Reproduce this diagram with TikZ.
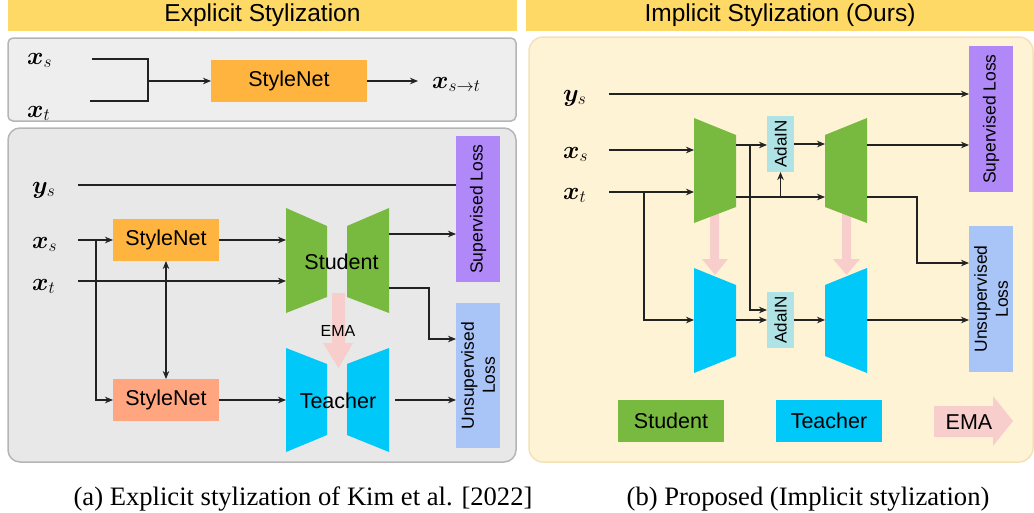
\documentclass[tikz,border=0pt]{standalone}
\usepackage{amsmath,bm}
\usepackage{fontspec}
\setmainfont{Liberation Sans}
\newfontfamily\capfont{Liberation Serif}
\usetikzlibrary{arrows.meta}
\definecolor{hdr}{HTML}{FFD966}
\definecolor{grayA}{HTML}{EEEEEE}
\definecolor{grayB}{HTML}{E8E8E8}
\definecolor{grayline}{HTML}{B5B5B5}
\definecolor{cream}{HTML}{FFF3D6}
\definecolor{creamline}{HTML}{F3E2B8}
\definecolor{orS}{HTML}{FFB43F}
\definecolor{salm}{HTML}{FFA680}
\definecolor{purp}{HTML}{B088F7}
\definecolor{lblue}{HTML}{A9C4F7}
\definecolor{stg}{HTML}{78B940}
\definecolor{tcy}{HTML}{00C8F8}
\definecolor{pinkema}{HTML}{F8CECC}
\definecolor{adain}{HTML}{B0E3E6}
\definecolor{lc}{HTML}{222222}
\begin{document}
\begin{tikzpicture}[x=1pt,y=-1pt,
  lab/.style={inner sep=0pt, font=\fontsize{26}{30}\selectfont, anchor=base west},
  rb/.style={inner sep=0pt, outer sep=0pt, draw=none, align=center},
  panel/.style={inner sep=0pt, outer sep=0pt, draw=grayline, line width=1.5pt},
  ln/.style={line width=1.1pt, draw=lc},
  arr/.style={ln, -{Stealth[length=8pt,width=6.5pt,inset=2.5pt]}},
  darr/.style={ln, {Stealth[length=8pt,width=6.5pt,inset=2.5pt]}-{Stealth[length=8pt,width=6.5pt,inset=2.5pt]}},
  big/.style={font=\fontsize{21.5}{26}\selectfont},
  mid/.style={font=\fontsize{17.5}{21}\selectfont},
  hfont/.style={font=\fontsize{24.5}{28}\selectfont},
  capstyle/.style={inner sep=0pt, anchor=base, font=\capfont\fontsize{26.6}{30}\selectfont},
]
\useasboundingbox (0,0) rectangle (1034,512);
% headers
\node[rb, fill=hdr, minimum width=509pt, minimum height=31pt, hfont] (hL) at (262.5,15.5) {Explicit Stylization};
\node[rb, fill=hdr, minimum width=508pt, minimum height=31pt, hfont] (hR) at (780,15.5) {Implicit Stylization (Ours)};
% panels
\node[panel, rounded corners=5pt, fill=grayA, minimum width=508pt, minimum height=83pt] (pTop) at (262,79.5) {};
\node[panel, rounded corners=12pt, fill=grayB, minimum width=508pt, minimum height=334pt] (pBot) at (262,295) {};
\node[panel, rounded corners=14pt, fill=cream, draw=creamline, minimum width=504pt, minimum height=425pt] (pR) at (781,249.5) {};

% ---------- top-left box
\node[lab] (xs0) at (27,64) {$\boldsymbol{x}_s$};
\node[lab] (xt0) at (27,117) {$\boldsymbol{x}_t$};
\coordinate (a0) at (92,59);
\coordinate (b0) at (90,101);
\coordinate (j0) at (148,81);
\node[rb, fill=orS, minimum width=156pt, minimum height=42pt, big] (snT) at (289,81) {StyleNet};
\draw[ln] (a0) -| (j0);
\draw[ln] (b0) -| (j0);
\draw[arr] (j0) -- (snT.west);
\node[lab] (xst) at (432,88) {$\boldsymbol{x}_{s\to t}$};
\draw[arr] (snT.east) -- ([xshift=-14pt]xst.west |- snT.east);

% ---------- bottom-left box
\node[lab] (ys1) at (32,193) {$\boldsymbol{y}_s$};
\node[lab] (xs1) at (32,248) {$\boldsymbol{x}_s$};
\node[lab] (xt1) at (32,290) {$\boldsymbol{x}_t$};
\coordinate (ys1e) at (78,185);
\coordinate (xs1e) at (78,240);
\coordinate (xt1e) at (78,281);
\coordinate (br1) at (96,240);
\node[rb, fill=orS, minimum width=106pt, minimum height=42pt, big] (sn1) at (166,240) {StyleNet};
\node[rb, fill=salm, minimum width=106pt, minimum height=42pt, big] (sn2) at (166,400) {StyleNet};
\node[rb, fill=purp, minimum width=44pt, minimum height=146pt] (supL) at (478,209) {};
\node[rb, rotate=90, mid] (supLt) at (supL) {Supervised Loss};
\node[rb, fill=lblue, minimum width=44pt, minimum height=145pt] (unsL) at (478,375.5) {};
\node[rb, rotate=90, mid] (unsLt) at (unsL) {Unsupervised\\Loss};
% EMA arrow (left)
\fill[pinkema] (332,293) -- (345,293) -- (345,343) -- (353,343) -- (338.5,368) -- (323,343) -- (332,343) -- cycle;
% student / teacher trapezoids
\fill[stg] (286,208) -- (327,226) -- (327,297) -- (286,313) -- cycle;
\fill[stg] (347,226) -- (389,208) -- (389,313) -- (347,297) -- cycle;
\fill[tcy] (286,348) -- (327,364) -- (327,435) -- (286,452) -- cycle;
\fill[tcy] (347,364) -- (389,348) -- (389,452) -- (347,435) -- cycle;
\node[rb, big] (stuT) at (341.5,262) {Student};
\node[rb, big] (teaT) at (338,401) {Teacher};
\node[rb, font=\fontsize{16}{19}\selectfont] (emaL) at (338,331) {EMA};
\coordinate (stuIn) at (286,0);
\coordinate (tu) at (429,0);
\coordinate (uin) at (456,339);
\coordinate (so1) at (389,234);
\coordinate (so2) at (389,288);
\coordinate (to1) at (395,400);
\draw[ln] (ys1e) -- (ys1e -| supL.west);
\draw[arr] (xs1e) -- (sn1.west);
\draw[arr] (br1) |- (sn2.west);
\draw[darr] (sn1.south) -- (sn2.north);
\draw[arr] (sn1.east) -- (sn1.east -| stuIn);
\draw[arr] (xt1e) -- (xt1e -| stuIn);
\draw[arr] (sn2.east) -- (sn2.east -| stuIn);
\draw[arr] (so1) -- (so1 -| supL.west);
\draw[arr] (so2) -- (so2 -| tu) |- (uin);
\draw[arr] (to1) -- (to1 -| unsL.west);

% ---------- right box
\node[lab] (ys2) at (563,101) {$\boldsymbol{y}_s$};
\node[lab] (xs2) at (563,158) {$\boldsymbol{x}_s$};
\node[lab] (xt2) at (563,199) {$\boldsymbol{x}_t$};
\coordinate (ys2e) at (609,94);
\coordinate (xs2e) at (609,150);
\coordinate (xt2e) at (609,192);
\node[rb, fill=purp, minimum width=44pt, minimum height=146pt] (supR) at (991,119) {};
\node[rb, rotate=90, mid] (supRt) at (supR) {Supervised Loss};
\node[rb, fill=lblue, minimum width=44pt, minimum height=146pt] (unsR) at (991,299) {};
\node[rb, rotate=90, mid] (unsRt) at (unsR) {Unsupervised\\Loss};
\node[rb, fill=adain, minimum width=27pt, minimum height=56pt] (ada1) at (780.5,144) {};
\node[rb, rotate=90, font=\fontsize{17}{20}\selectfont] (ada1t) at (ada1) {AdaIN};
\node[rb, fill=adain, minimum width=27pt, minimum height=56pt] (ada2) at (780.5,320) {};
\node[rb, rotate=90, font=\fontsize{17}{20}\selectfont] (ada2t) at (ada2) {AdaIN};
% EMA arrows (right)
\fill[pinkema] (710,212) -- (719,212) -- (719,259) -- (728,259) -- (715,275) -- (702,259) -- (710,259) -- cycle;
\fill[pinkema] (842,212) -- (851,212) -- (851,259) -- (860,259) -- (846.5,275) -- (833,259) -- (842,259) -- cycle;
% trapezoids
\fill[stg] (694,118) -- (736,135) -- (736,207) -- (694,223) -- cycle;
\fill[stg] (825,135) -- (867,118) -- (867,223) -- (825,207) -- cycle;
\fill[tcy] (694,268) -- (736,285) -- (736,356) -- (694,373) -- cycle;
\fill[tcy] (825,285) -- (867,268) -- (867,373) -- (825,356) -- cycle;
\coordinate (encIn) at (694,0);
\coordinate (decIn) at (825,0);
\coordinate (uR) at (917,0);
\coordinate (brx) at (644,192);
\coordinate (tIn) at (694,320);
\coordinate (e1) at (736,145);
\coordinate (e2) at (736,197);
\coordinate (d2) at (825,197);
\coordinate (b2) at (780.5,197);
\coordinate (b1) at (750,145);
\coordinate (a2in) at (767,310);
\coordinate (do1) at (867,145);
\coordinate (do2) at (867,197);
\coordinate (uRin) at (969,263);
\coordinate (te1) at (736,320);
\coordinate (td1) at (867,320);
\draw[arr] (ys2e) -- (ys2e -| supR.west);
\draw[arr] (xs2e) -- (xs2e -| encIn);
\draw[arr] (xt2e) -- (xt2e -| encIn);
\draw[arr] (brx) |- (tIn);
\draw[arr] (e1) -- (e1 -| ada1.west);
\draw[arr] (e2) -- (d2);
\draw[arr] (b2) -- (ada1.south);
\draw[arr] (b1) |- (a2in);
\draw[arr] (ada1.east) -- (ada1.east -| decIn);
\draw[arr] (do1) -- (do1 -| supR.west);
\draw[arr] (do2) -- (do2 -| uR) |- (uRin);
\draw[arr] (te1) -- (te1 -| ada2.west);
\draw[arr] (ada2.east) -- (ada2.east -| decIn);
\draw[arr] (td1) -- (td1 -| unsR.west);
% legend
\node[rb, fill=stg, minimum width=106pt, minimum height=42pt, big] (legS) at (671,421) {Student};
\node[rb, fill=tcy, minimum width=106pt, minimum height=42pt, big] (legT) at (829,421) {Teacher};
\fill[pinkema] (934,406) -- (993,406) -- (993,396) -- (1013,421) -- (993,446) -- (993,437) -- (934,437) -- cycle;
\node[rb, big] (legE) at (969,422) {EMA};

% captions
\node[capstyle] (capA) at (303,505) {(a) Explicit stylization of Kim et al. [2022]};
\node[capstyle] (capB) at (808,505) {(b) Proposed (Implicit stylization)};
\end{tikzpicture}
\end{document}
